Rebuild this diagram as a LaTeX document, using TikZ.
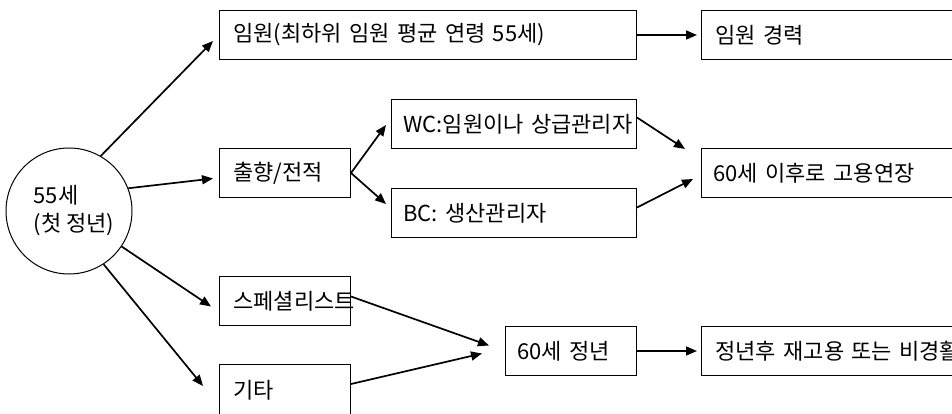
\documentclass[tikz,border=0pt]{standalone}
\usepackage{fontspec}
\setmainfont{Noto Sans CJK KR}
\usetikzlibrary{arrows.meta}
\tikzset{
  box/.style={draw, line width=1pt, rectangle, anchor=north west, minimum height=49pt,
    inner xsep=14pt, inner ysep=0pt, align=left, font=\fontsize{22}{26}\selectfont},
  arr/.style={line width=1.7pt, -{Triangle[length=11pt,width=9pt]}},
}
\begin{document}
\begin{tikzpicture}[x=1pt,y=-1pt]
\useasboundingbox (0,0) rectangle (952,414);
\fill[white] (0,0) rectangle (952,414);
\clip (0,0) rectangle (952,414);
\node[circle, draw, line width=1pt, minimum size=126pt, inner sep=0pt, align=left,
  font=\fontsize{22}{28}\selectfont] (circ) at (69,211)
  {\hspace*{10pt}55세\\\hspace*{10pt}(첫 정년)};
\node[box, text width=389pt] (A) at (219,10) {\mbox{임원(최하위 임원 평균 연령 55세)}};
\node[box, text width=251pt] (B) at (701,10) {\mbox{임원 경력}};
\node[box, text width=103pt] (C) at (219,148) {\mbox{출향/전적}};
\node[box, inner xsep=12pt, text width=221pt] (D) at (391,99) {\mbox{WC:임원이나 상급관리자}};
\node[box, inner xsep=12pt, text width=221pt] (E) at (391,188) {\mbox{BC: 생산관리자}};
\node[box, inner xsep=12pt, text width=255pt] (F) at (701,148) {\mbox{60세 이후로 고용연장}};
\node[box, text width=103pt] (G) at (219,276) {\mbox{스페셜리스트}};
\node[box, text width=103pt, minimum height=66pt, text depth=17pt] (H) at (219,364) {\mbox{기타}};
\node[box, inner xsep=12pt, text width=107pt] (I) at (505,326) {\mbox{60세 정년}};
\node[box, text width=251pt] (J) at (701,326) {\mbox{정년후 재고용 또는 비경활}};

\draw[arr] (circ.60) -- ([shift={(-6pt,19pt)}]A.south west);
\draw[arr] (circ.21) -- ([shift={(-6pt,-5.5pt)}]C.west);
\draw[arr] (C.east) -- ([shift={(-5pt,24pt)}]D.south west);
\draw[arr] (C.east) -- ([shift={(-5pt,-16pt)}]E.north west);
\draw[arr, shorten >=4pt] (A.east) -- (B.west);
\draw[arr] ([shift={(0pt,6.5pt)}]D.east) -- ([shift={(-16pt,-1pt)}]F.north west);
\draw[arr] ([shift={(0pt,5.5pt)}]E.east) -- ([shift={(-8pt,19pt)}]F.south west);
\draw[arr] (circ.-34) -- ([shift={(-8pt,-5.5pt)}]G.west);
\draw[arr] (circ.-57) -- ([shift={(-16pt,-22pt)}]H.north west);
\draw[arr] ([shift={(0pt,4.5pt)}]G.east) -- ([shift={(-16pt,5.5pt)}]I.west);
\draw[arr] ([shift={(0pt,-20pt)}]H.north east) -- ([shift={(-23pt,-2.5pt)}]I.west);
\draw[arr, shorten >=4pt] (I.east) -- (J.west);
\end{tikzpicture}
\end{document}
